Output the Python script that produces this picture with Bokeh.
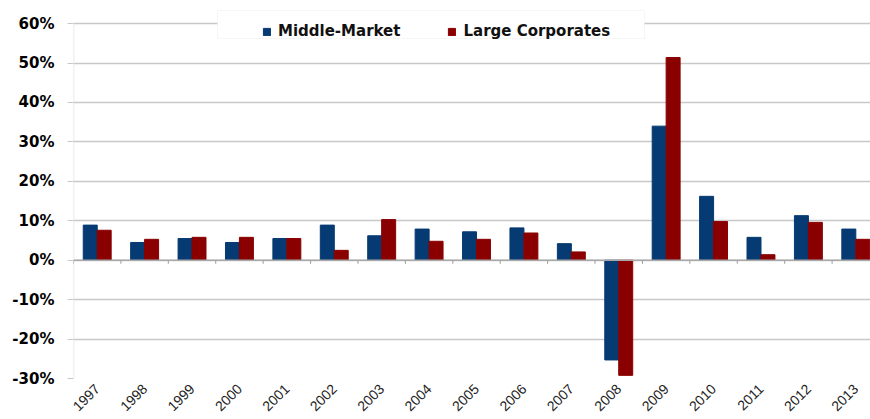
from bokeh.plotting import figure
from bokeh.models import (ColumnDataSource, FixedTicker, PrintfTickFormatter, Legend,
                          LegendItem, BoxAnnotation, Span, Range1d)
from bokeh.transform import dodge
from bokeh.embed import file_html
from bokeh.resources import INLINE
import math

years = ["1997", "1998", "1999", "2000", "2001", "2002", "2003", "2004", "2005",
         "2006", "2007", "2008", "2009", "2010", "2011", "2012", "2013"]
middle_market = [8.9, 4.5, 5.5, 4.5, 5.5, 8.9, 6.2, 7.9, 7.2, 8.2, 4.2, -25.3,
                 34.0, 16.2, 5.8, 11.3, 7.9]
large_corporates = [7.6, 5.3, 5.8, 5.8, 5.5, 2.5, 10.3, 4.8, 5.3, 6.9, 2.1, -29.2,
                    51.4, 9.8, 1.4, 9.6, 5.3]
y_ticks = [-30, -20, -10, 0, 10, 20, 30, 40, 50, 60]

BLUE = "#063a72"
RED = "#8a0000"

n = len(years)
pos = list(range(n))
src = ColumnDataSource(dict(x=pos, mm=middle_market, lc=large_corporates))

p = figure(width=870, height=419, output_backend="svg", toolbar_location=None,
           x_range=Range1d(-0.5, 16.31), y_range=Range1d(-30, 64.6),
           min_border_left=73, min_border_right=0, min_border_top=5,
           min_border_bottom=41, outline_line_color=None,
           background_fill_color="white", border_fill_color="white")

p.ygrid.ticker = FixedTicker(ticks=y_ticks)
p.ygrid.grid_line_color = "#c8c8c8"
p.ygrid.grid_line_width = 1.5
p.xgrid.grid_line_color = None

zero = Span(location=0, dimension="width", line_color="#a8a8a8", line_width=1.5)
p.add_layout(zero)

# faint vertical axis line from bottom to top tick
p.segment(x0=[-0.5], x1=[-0.5], y0=[min(y_ticks)], y1=[max(y_ticks)],
          line_color="#e4e4e4", line_width=1.5)

# category boundary ticks on the zero line
bx = [i - 0.5 for i in range(n + 1)]
p.segment(x0=bx, x1=bx, y0=[0] * len(bx), y1=[-0.9] * len(bx),
          line_color="#9a9a9a", line_width=1)

r1 = p.vbar(x=dodge("x", -0.147, range=p.x_range), top="mm", width=0.295,
            source=src, fill_color=BLUE, line_color=BLUE)
r2 = p.vbar(x=dodge("x", 0.147, range=p.x_range), top="lc", width=0.295,
            source=src, fill_color=RED, line_color=RED)

# y axis
p.yaxis.ticker = FixedTicker(ticks=y_ticks)
p.yaxis.formatter = PrintfTickFormatter(format="%d%%")
p.yaxis.major_label_text_font = "DejaVu Sans"
p.yaxis.major_label_text_font_style = "bold"
p.yaxis.major_label_text_font_size = "15px"
p.yaxis.major_label_text_color = "#000000"
p.yaxis.axis_line_color = None
p.yaxis.major_tick_line_color = "#c8c8c8"
p.yaxis.major_tick_out = 6
p.yaxis.major_tick_in = 0
p.yaxis.minor_tick_line_color = None
p.yaxis.major_label_standoff = 13

# x axis
p.xaxis.ticker = FixedTicker(ticks=pos)
p.xaxis.major_label_overrides = {i: y for i, y in zip(pos, years)}
p.xaxis.major_label_orientation = math.pi / 4
p.xaxis.major_label_text_font = "Liberation Sans"
p.xaxis.major_label_text_font_size = "14px"
p.xaxis.major_label_text_color = "#222222"
p.xaxis.axis_line_color = None
p.xaxis.major_tick_line_color = None
p.xaxis.major_tick_out = 0
p.xaxis.major_tick_in = 0
p.xaxis.minor_tick_line_color = None
p.xaxis.minor_tick_out = 0
p.xaxis.minor_tick_in = 0
p.xaxis.major_label_standoff = 8

# legend frame
box = BoxAnnotation(left=217, right=644, top=10, bottom=38,
                    left_units="canvas", right_units="canvas",
                    top_units="canvas", bottom_units="canvas",
                    fill_color="white", fill_alpha=1.0,
                    line_color="#e2e2e2", line_width=1)
p.add_layout(box)

legend = Legend(items=[LegendItem(label="Middle-Market", renderers=[r1]),
                       LegendItem(label="Large Corporates", renderers=[r2])],
                orientation="horizontal", location=(189, 338),
                padding=0, margin=0, spacing=47,
                glyph_width=9, glyph_height=9, label_standoff=7,
                label_text_font="DejaVu Sans", label_text_font_style="bold",
                label_text_font_size="15px", label_text_color="#111111",
                border_line_color=None, background_fill_alpha=0)
p.add_layout(legend, "center")

open("out.html", "w").write(file_html(p, INLINE))
